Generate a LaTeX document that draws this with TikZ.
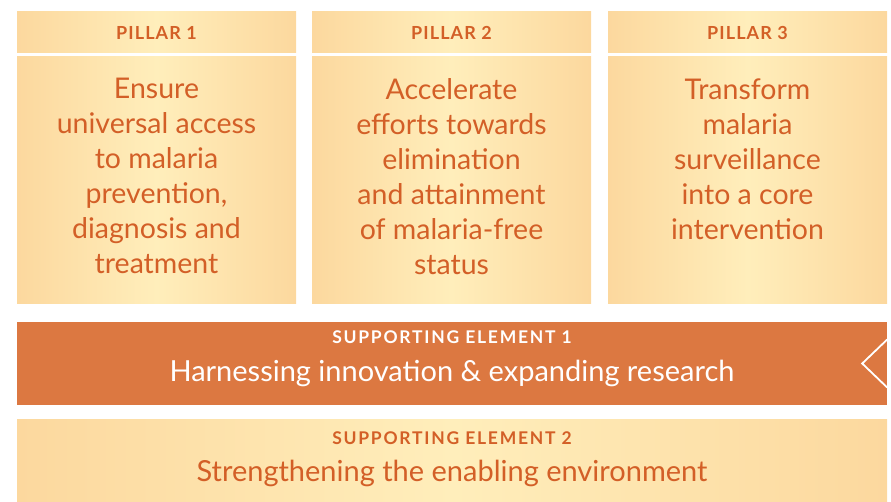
\documentclass[tikz,border=0pt]{standalone}
\usepackage{fontspec}
\setmainfont{Lato}
\newfontfamily\headfont[LetterSpace=6]{Lato}
\newfontfamily\wideheadfont[LetterSpace=10]{Lato}
\usetikzlibrary{positioning}

\definecolor{pillartext}{HTML}{D35F27}
\definecolor{barorange}{HTML}{DC7841}
\definecolor{paleedge}{HTML}{FCD89E}
\definecolor{palemid}{HTML}{FFEEBB}

\tikzset{
 panel/.style={inner sep=0pt, left color=paleedge, right color=paleedge, middle color=palemid},
 headtext/.style={font=\headfont\bfseries\fontsize{18}{20}\selectfont},
 sehead/.style={font=\wideheadfont\bfseries\fontsize{17.5}{18}\selectfont},
 bodytext/.style={font=\fontsize{28.5}{35}\selectfont, align=center},
 bartext/.style={font=\fontsize{29}{32}\selectfont},
}

% one pillar: header strip, body panel and its text
\newcommand{\pillar}[4]{%
 \node (h#1) [panel, minimum width=279pt, minimum height=41pt] at (#2,32.5) {};%
 \node (h#1txt) [headtext, text=pillartext] at (h#1) {#3};%
 \node (p#1) [panel, minimum width=279pt, minimum height=247pt] at (#2,180.5) {};%
 \node (p#1txt) [bodytext, text=pillartext, anchor=north] at (#2,75) {#4};%
}

\begin{document}
\begin{tikzpicture}[x=1pt,y=-1pt]
 \useasboundingbox (0,0) rectangle (891,502);
 \pillar{1}{156.5}{PILLAR 1}{Ensure\\universal access\\to malaria\\prevention,\\diagnosis and\\treatment}
 \pillar{2}{451.5}{PILLAR 2}{Accelerate\\efforts towards\\elimination\\and attainment\\of malaria-free\\status}
 \pillar{3}{747.5}{PILLAR 3}{Transform\\malaria\\surveillance\\into a core\\intervention}

 \node (se1) [fill=barorange, minimum width=870pt, minimum height=83pt] at (452,363.5) {};
 \node (se1head) [sehead, text=white] at (452,337) {SUPPORTING ELEMENT 1};
 \node (se1txt) [bartext, text=white] at (452,373) {Harnessing innovation \& expanding research};
 \draw[white, line width=1.8pt] ([yshift=24pt]se1.east) -- ([xshift=-25pt]se1.east) -- ([yshift=-24pt]se1.east);

 \node (se2) [panel, minimum width=870pt, minimum height=83pt] at (452,460.5) {};
 \node (se2head) [sehead, text=pillartext] at (452,438) {SUPPORTING ELEMENT 2};
 \node (se2txt) [bartext, text=pillartext] at (452,473) {Strengthening the enabling environment};
\end{tikzpicture}
\end{document}
